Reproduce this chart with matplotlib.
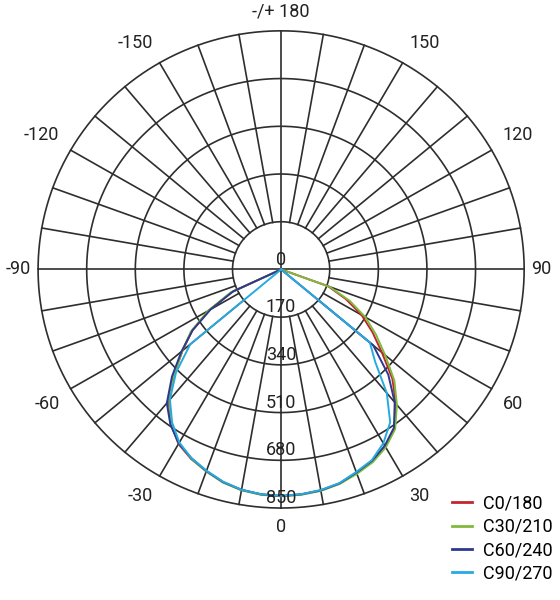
import numpy as np
import matplotlib
matplotlib.use("Agg")
import matplotlib.pyplot as plt
from matplotlib.lines import Line2D

plt.rcParams['font.family'] = ['Roboto', 'DejaVu Sans']

# gamma angles (deg), 0 = straight down, + to the right
angles = list(range(-90, 95, 5))

# luminous intensity (cd/klm) per C-plane
c0_180 = [0, 0, 0, 0, 0, 190, 290, 380, 450, 530, 612, 672, 718, 745, 765, 785, 798, 805,
          808,
          805, 800, 790, 772, 755, 728, 690, 625, 550, 460, 390, 325, 250, 175, 0, 0, 0, 0]
c30_210 = [0, 0, 0, 0, 0, 195, 295, 385, 452, 528, 608, 670, 716, 744, 766, 786, 799, 806,
           808,
           806, 801, 791, 775, 758, 732, 695, 630, 560, 475, 405, 340, 265, 180, 0, 0, 0, 0]
c60_240 = [0, 0, 0, 0, 0, 185, 285, 378, 455, 540, 622, 675, 716, 742, 764, 784, 797, 804,
           807,
           804, 799, 789, 770, 752, 725, 688, 618, 530, 420, 0, 0, 0, 0, 0, 0, 0, 0]
c90_270 = [0, 0, 0, 0, 0, 0, 0, 0, 415, 520, 605, 665, 712, 742, 763, 783, 797, 804,
           806,
           804, 798, 788, 768, 750, 715, 665, 575, 465, 405, 0, 0, 0, 0, 0, 0, 0, 0]

series = [
    ("C0/180", c0_180, "#c1272d"),
    ("C30/210", c30_210, "#7fba3c"),
    ("C60/240", c60_240, "#2b3990"),
    ("C90/270", c90_270, "#27aae1"),
]

ring_values = [170, 340, 510, 680, 850]
angle_labels = [180, 150, 120, 90, 60, 30, 0, -30, -60, -90, -120, -150]

fig = plt.figure(figsize=(5.6, 6.0), dpi=100)
ax = fig.add_axes([0.068, 0.1533, 0.868, 0.7953], projection='polar')
ax.set_aspect('auto')
ax.set_theta_zero_location('S')
ax.set_theta_direction(1)
ax.set_ylim(0, 850)
ax.set_axis_off()

grid_kw = dict(color='#2e2e2e', linewidth=1.2, clip_on=False, zorder=1)

# rings
th = np.linspace(0, 2 * np.pi, 400)
for r in ring_values:
    ax.plot(th, np.full_like(th, r), **grid_kw)

# spokes every 10 deg, main axes go through the centre
for a in range(-170, 190, 10):
    start = 0 if a in (0, 90, -90, 180) else ring_values[0]
    ax.plot([np.deg2rad(a)] * 2, [start, ring_values[-1]], **grid_kw)

# curves
theta = np.deg2rad(angles)
for name, vals, col in series:
    ax.plot(theta, vals, color=col, linewidth=1.4, zorder=3)

# angle labels: left half right-aligned, right half left-aligned,
# upper ones sit above their point, lower ones below
for a in angle_labels:
    txt = "-/+ 180" if a == 180 else str(a)
    if a in (0, 180):
        r_lab, ha, va = 918, 'center', 'center'
    elif abs(a) == 90:
        r_lab, ha, va = 875, ('left' if a > 0 else 'right'), 'center'
    else:
        r_lab = 895
        ha = 'left' if a > 0 else 'right'
        va = 'bottom' if abs(a) > 90 else 'top'
    ax.text(np.deg2rad(a), r_lab, txt, ha=ha, va=va, fontsize=13,
            color='#222222', clip_on=False)

# radial labels
ax.text(np.pi, 3, "0", ha='center', va='bottom', fontsize=13, color='#222222', zorder=4)
for r in ring_values:
    ax.text(0, r - 3, str(r), ha='center', va='bottom', fontsize=13,
            color='#222222', zorder=4)

handles = [Line2D([0], [0], color=c, linewidth=2) for _, _, c in series]
labels = [n for n, _, _ in series]
fig.legend(handles, labels, loc='upper left', bbox_to_anchor=(0.795, 0.188),
           frameon=False, fontsize=13, handlelength=1.1, handletextpad=0.6,
           labelspacing=0.3, borderaxespad=0)

fig.savefig("out.png", dpi=100)
